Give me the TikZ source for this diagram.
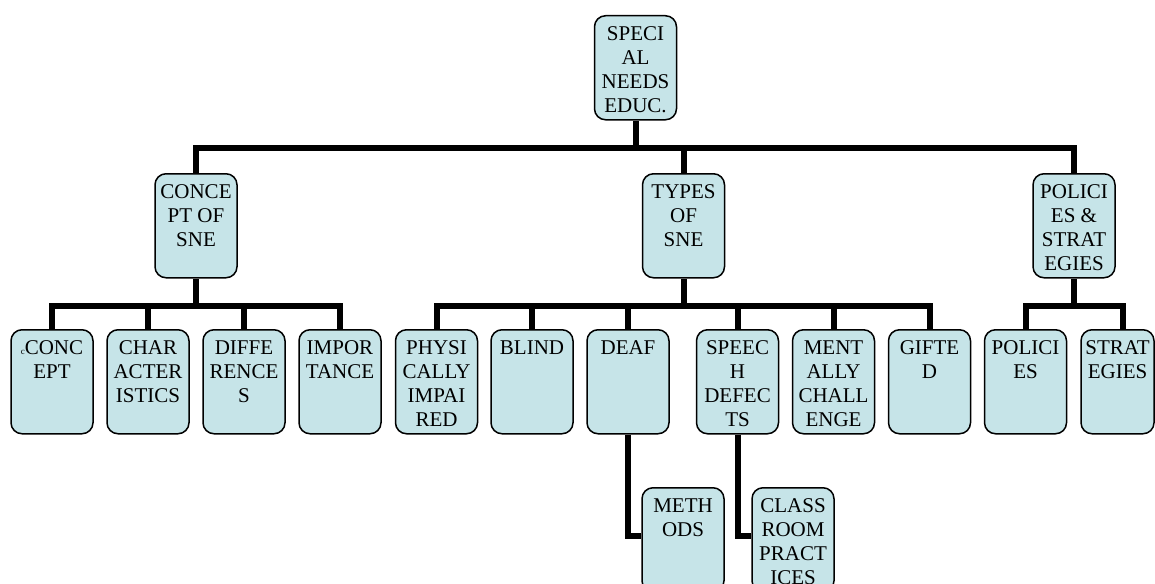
\documentclass[tikz,border=0pt]{standalone}
\usepackage{fontspec}
\setmainfont{Liberation Serif}
\definecolor{boxblue}{HTML}{C6E4E8}
\newcommand{\lbl}[2][82pt]{\parbox[t][104pt][t]{#1}{\centering\vspace*{10.5pt}#2}}

\begin{document}
\begin{tikzpicture}[x=1pt, y=-1pt]
    \useasboundingbox (0,0) rectangle (1155,583);
    \begin{scope}[all/.style={draw,fill=boxblue,rounded corners=11pt,line width=1.5pt,inner sep=0pt,anchor=north,font=\fontsize{21}{24}\selectfont}]
        \node[all] (sne) at (635.5, 15) {\lbl{SPECI\\AL\\NEEDS\\EDUC.}};
        \node[all] (concept) at (196, 173) {\lbl{CONCE\\PT OF\\SNE}};
        \node[all] (types) at (683.5, 173) {\lbl{TYPES\\OF\\SNE}};
        \node[all] (policies) at (1074, 173) {\lbl{POLICI\\ES \&\\STRAT\\EGIES}};
        \node[all] (c1) at (52, 329) {\lbl{{\fontsize{9}{9}\selectfont c}CONC\\EPT}};
        \node[all] (c2) at (148, 329) {\lbl{CHAR\\ACTER\\ISTICS}};
        \node[all] (c3) at (244, 329) {\lbl{DIFFE\\RENCE\\S}};
        \node[all] (c4) at (340, 329) {\lbl{IMPOR\\TANCE}};
        \node[all] (t1) at (436.5, 329) {\lbl{PHYSI\\CALLY\\IMPAI\\RED}};
        \node[all] (t2) at (532, 329) {\lbl{BLIND}};
        \node[all] (t3) at (628, 329) {\lbl{DEAF}};
        \node[all] (t4) at (737.5, 329) {\lbl{SPEEC\\H\\DEFEC\\TS}};
        \node[all] (t5) at (833.5, 329) {\lbl{MENT\\ALLY\\CHALL\\ENGE}};
        \node[all] (t6) at (929.5, 329) {\lbl{GIFTE\\D}};
        \node[all] (p1) at (1025.5, 329) {\lbl{POLICI\\ES}};
        \node[all] (p2) at (1117.5, 329) {\lbl[73pt]{STRAT\\EGIES}};
        \node[all] (m1) at (683, 487) {\lbl{METH\\ODS}};
        \node[all] (m2) at (793, 487) {\lbl{CLASS\\ROOM\\PRACT\\ICES}};
    \end{scope}
    \coordinate (bar0) at (0, 148);
    \coordinate (bar1) at (0, 306);
    \begin{scope}[line width=6pt]
        \foreach \n in {concept,types,policies}
            \draw (\n.north) -- (\n.north |- bar0) -| (sne.south);
        \foreach \n in {c1,c2,c3,c4}
            \draw (\n.north) -- (\n.north |- bar1) -| (concept.south);
        \foreach \n in {t1,t2,t3,t4,t5,t6}
            \draw (\n.north) -- (\n.north |- bar1) -| (types.south);
        \draw (p1.north) -- (p1.north |- bar1) -| (policies.south);
        \draw ([xshift=5pt]p2.north) -- ([xshift=5pt]p2.north |- bar1) -| (policies.south);
        \draw (t3.south) |- ([yshift=4pt]m1.west);
        \draw (t4.south) |- ([yshift=4pt]m2.west);
    \end{scope}
\end{tikzpicture}
\end{document}
